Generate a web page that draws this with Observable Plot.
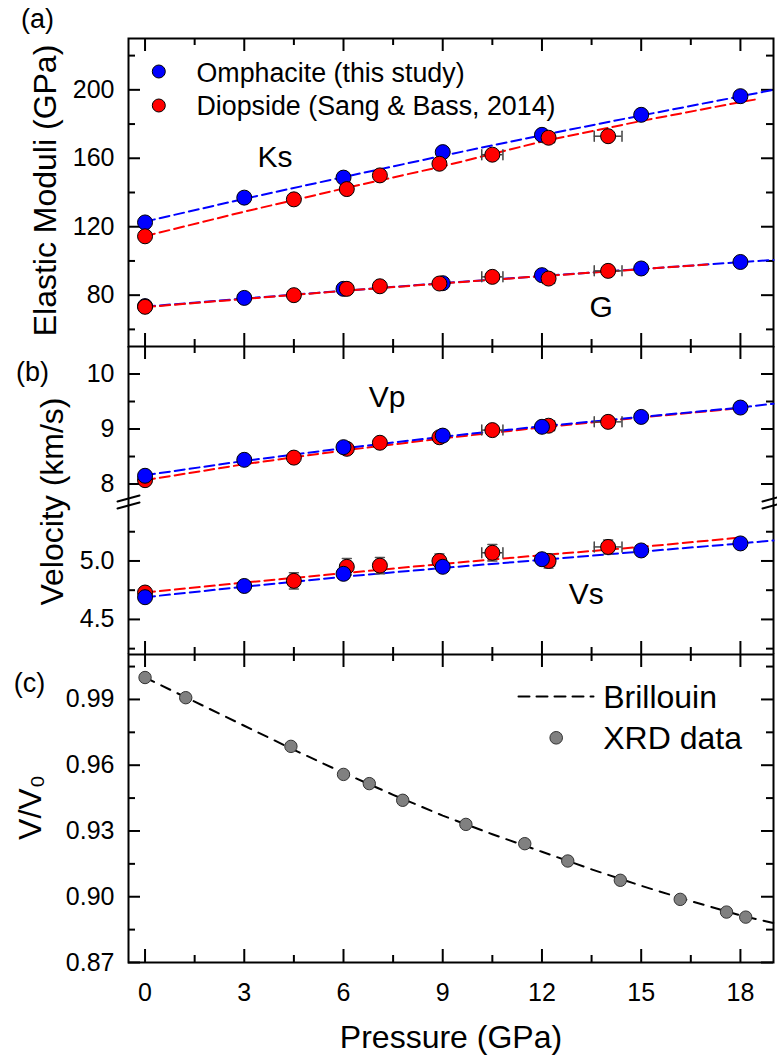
<!DOCTYPE html>
<html><head><meta charset="utf-8">
<script src="https://cdn.jsdelivr.net/npm/d3@7"></script>
<script src="https://cdn.jsdelivr.net/npm/@observablehq/plot@0.6"></script>
<style>
body{margin:0;background:#fff;}
#chart{position:relative;width:777px;height:1057px;}
</style></head><body><div id="chart"></div>
<script>
// ---------- data ----------
const seriesNames = ["Omphacite (this study)", "Diopside (Sang & Bass, 2014)"];
const seriesColors = ["#0000ff", "#ff0000"];

// Omphacite (this study)
const pOmp  = [0, 3, 6, 9, 12, 15, 18];
const ksOmp = [122.5, 137.0, 148.7, 163.6, 173.7, 185.4, 196.3];
const gOmp  = [73.6, 78.4, 83.7, 87.0, 91.7, 95.6, 99.4];
const vpOmp = [8.15, 8.44, 8.67, 8.88, 9.04, 9.22, 9.39];
const vsOmp = [4.69, 4.786, 4.89, 4.95, 5.015, 5.09, 5.15];

// Diopside (Sang & Bass, 2014)
const pDi    = [0, 4.5, 6.1, 7.1, 8.9, 10.5, 12.2, 14];
const pDiErr = [0, 0, 0, 0, 0, 0.32, 0.18, 0.42];
const ksDi   = [114.4, 136.0, 142.0, 150.0, 156.8, 162.1, 172.0, 172.9];
const gDi    = [73.2, 80.0, 83.7, 85.2, 86.8, 90.7, 89.7, 94.2];
const vpDi   = [8.07, 8.48, 8.64, 8.75, 8.85, 8.98, 9.06, 9.13];
const vsDi   = [4.73, 4.83, 4.95, 4.96, 5.0, 5.07, 5.0, 5.12];
const vsDiErr = [0.04, 0.07, 0.07, 0.07, 0.06, 0.07, 0.06, 0.06];

// dashed fit curves
const fitPOmp  = [0, 3, 6, 9, 12, 15, 18, 19];
const ksOmpFit = [123, 136.3, 149, 161.5, 173.5, 185, 196.2, 200];
const gOmpFit  = [73.3, 78, 82.6, 87, 91.2, 95.3, 99.3, 100.6];
const vpOmpFit = [8.16, 8.42, 8.65, 8.86, 9.05, 9.22, 9.39, 9.46];
const vsOmpFit = [4.69, 4.78, 4.865, 4.94, 5.01, 5.08, 5.15, 5.175];
const fitPDiK  = [0, 3, 6, 9, 12, 15, 18, 18.5];
const ksDiFit  = [114.5, 128.8, 142.3, 155.3, 169.8, 181.8, 192.8, 194.5];
const fitPDiG  = [0, 3, 6, 9, 12, 15, 17];
const gDiFit   = [73, 77.8, 82.5, 86.9, 91.1, 95.2, 97.9];
const fitPDiV  = [0, 3, 6, 9, 12, 15, 18];
const vpDiFit  = [8.07, 8.36, 8.61, 8.83, 9.03, 9.21, 9.38];
const vsDiFit  = [4.73, 4.815, 4.895, 4.975, 5.05, 5.12, 5.2];

// panel (c): XRD data and Brillouin curve
const pXrd = [0, 1.23, 4.41, 6.0, 6.78, 7.79, 9.7, 11.48, 12.78, 14.37, 16.18, 17.58, 18.16];
const vXrd = [1.0, 0.9908, 0.9686, 0.9558, 0.9516, 0.944, 0.933, 0.9242, 0.9163, 0.9075, 0.8988, 0.893, 0.8907];
const pBril = [0, 1.5, 3, 4.5, 6, 7.5, 9, 10.5, 12, 13.5, 15, 16.5, 18, 19];
const vBril = [1.0, 0.989, 0.978, 0.967, 0.9565, 0.9465, 0.937, 0.9285, 0.9205, 0.9125, 0.905, 0.898, 0.8915, 0.888];

// ticks
const xDomain = [-0.5, 19];
const xMajor = [0, 3, 6, 9, 12, 15, 18];
const xMinor = [1.5, 4.5, 7.5, 10.5, 13.5, 16.5];
const aDomain = [50, 230], aMajor = [80, 120, 160, 200], aMinor = [60, 100, 140, 180, 220];
const b1Domain = [7.664, 10.5], b1Major = [8, 9, 10], b1Minor = [8.5, 9.5];
const b2Domain = [4.2, 5.5], b2Major = [4.5, 5.0], b2Minor = [4.25, 4.75, 5.25];
const cDomain = [0.87, 1.0105], cMajor = [0.87, 0.90, 0.93, 0.96, 0.99], cMinor = [0.885, 0.915, 0.945, 0.975, 1.005];

// ---------- helpers ----------
const zipPV = (ps, vs, extra = {}) => ps.map((p, i) => {
  const o = {p, v: vs[i]};
  for (const k in extra) o[k] = extra[k][i];
  return o;
});
const FONT = '"Liberation Sans", Arial, sans-serif';
const INNER_W = 645;
const lineShape = {draw(ctx, l) { ctx.moveTo(0, 0); ctx.lineTo(0, -l); }};
const capShape = {draw(ctx, l) { ctx.moveTo(0, -l / 2); ctx.lineTo(0, l / 2); }};
const breakShape = {draw(ctx) { ctx.moveTo(-11, -1); ctx.lineTo(11, -7); ctx.moveTo(-11, 6); ctx.lineTo(11, 0); }};

function yTicks(major, minor) {
  const m = [];
  for (const [vals, len] of [[major, 12], [minor, 7]]) {
    m.push(Plot.tickY(vals, {y: d => d, insetRight: INNER_W - len, stroke: "#000", strokeWidth: 2}));
    m.push(Plot.tickY(vals, {y: d => d, insetLeft: INNER_W - len, stroke: "#000", strokeWidth: 2}));
  }
  return m;
}
function xTicks(innerH, sides) {
  const m = [];
  for (const side of sides) for (const [vals, len] of [[xMajor, 13], [xMinor, 7]]) {
    const o = {x: d => d, stroke: "#000", strokeWidth: 2};
    if (side === "top") o.insetBottom = innerH - len; else o.insetTop = innerH - len;
    m.push(Plot.tickX(vals, o));
  }
  return m;
}
function errX(rows) {
  const r = rows.filter(d => d.ex > 0);
  const st = {stroke: "#444", strokeWidth: 1.5};
  return [
    Plot.ruleY(r, {y: "v", x1: d => d.p - d.ex, x2: d => d.p + d.ex, ...st}),
    Plot.vector(r, {x: d => d.p - d.ex, y: "v", length: 10, rotate: 0, anchor: "start", shape: capShape, ...st}),
    Plot.vector(r, {x: d => d.p + d.ex, y: "v", length: 10, rotate: 0, anchor: "start", shape: capShape, ...st})
  ];
}
function errY(rows) {
  const st = {stroke: "#555", strokeWidth: 1.5};
  return [
    Plot.ruleX(rows, {x: "p", y1: d => d.v - d.ey, y2: d => d.v + d.ey, ...st}),
    Plot.vector(rows, {x: "p", y: d => d.v - d.ey, length: 9, rotate: 90, anchor: "start", shape: capShape, ...st}),
    Plot.vector(rows, {x: "p", y: d => d.v + d.ey, length: 9, rotate: 90, anchor: "start", shape: capShape, ...st})
  ];
}
const dash = (rows, color) => Plot.line(rows, {x: "p", y: "v", stroke: color, strokeWidth: 2, strokeDasharray: "10,5"});
const dots = (rows, color) => Plot.dot(rows, {x: "p", y: "v", r: 7.5, fill: color, stroke: "#000", strokeWidth: 1});
const base = (height, mt, mb, yDomain, marks) => Plot.plot({
  width: 777, height, marginLeft: 128, marginRight: 4, marginTop: mt, marginBottom: mb,
  x: {domain: xDomain, axis: null}, y: {domain: yDomain, axis: null},
  style: {fontFamily: FONT, fontSize: "25px", background: "transparent", overflow: "visible", color: "#000"},
  marks
});
const chart = document.getElementById("chart");
function place(svg, top) {
  svg.style.position = "absolute"; svg.style.left = "0px"; svg.style.top = top + "px";
  chart.appendChild(svg);
}

// ---------- panel (a) ----------
const ksDiRows = zipPV(pDi, ksDi, {ex: pDiErr});
const gDiRows = zipPV(pDi, gDi, {ex: pDiErr});
const panelA = base(346, 38, 0, aDomain, [
  Plot.frame({stroke: "#000", strokeWidth: 2}),
  ...yTicks(aMajor, aMinor),
  ...xTicks(308, ["top", "bottom"]),
  Plot.axisY(aMajor, {tickSize: 0, tickPadding: 14, fontSize: 25, label: null, tickFormat: d3.format("d")}),
  dash(zipPV(fitPOmp, ksOmpFit), seriesColors[0]),
  dash(zipPV(fitPOmp, gOmpFit), seriesColors[0]),
  dash(zipPV(fitPDiK, ksDiFit), seriesColors[1]),
  dash(zipPV(fitPDiG, gDiFit), seriesColors[1]),
  dots(zipPV(pOmp, ksOmp), seriesColors[0]),
  dots(zipPV(pOmp, gOmp), seriesColors[0]),
  ...errX(ksDiRows), ...errX(gDiRows),
  dots(ksDiRows, seriesColors[1]),
  dots(gDiRows, seriesColors[1]),
  ...seriesNames.flatMap((name, i) => [
    Plot.dot([name], {frameAnchor: "top-left", dx: 30.3, dy: 33 + 34 * i, r: 6.5, fill: seriesColors[i], stroke: "#000", strokeWidth: 1}),
    Plot.text([name], {frameAnchor: "top-left", dx: 68, dy: 35 + 33 * i, textAnchor: "start", lineAnchor: "middle", fontSize: 26.8})
  ]),
  Plot.text(["Ks"], {frameAnchor: "top-left", dx: 129, dy: 128.7, textAnchor: "start", lineAnchor: "bottom", fontSize: 30}),
  Plot.text(["G"], {frameAnchor: "top-left", dx: 461, dy: 278.7, textAnchor: "start", lineAnchor: "bottom", fontSize: 30}),
  Plot.text(["(a)"], {frameAnchor: "top-left", dx: -91, dy: -11, textAnchor: "middle", lineAnchor: "bottom", fontSize: 27}),
  Plot.text(["Elastic Moduli (GPa)"], {frameAnchor: "left", dx: -73, dy: -2, rotate: -90, textAnchor: "middle", lineAnchor: "bottom", fontSize: 32})
]);
place(panelA, 0);

// ---------- panel (b), upper part: Vp ----------
const vpDiRows = zipPV(pDi, vpDi, {ex: pDiErr});
const panelB1 = base(156, 0, 0, b1Domain, [
  Plot.ruleX(xDomain, {stroke: "#000", strokeWidth: 2}),
  ...yTicks(b1Major, b1Minor),
  ...xTicks(156, ["top"]),
  Plot.axisY(b1Major, {tickSize: 0, tickPadding: 14, fontSize: 25, label: null, tickFormat: d3.format("d")}),
  dash(zipPV(fitPDiV, vpDiFit), seriesColors[1]),
  dash(zipPV(fitPOmp, vpOmpFit), seriesColors[0]),
  ...errX(vpDiRows),
  dots(vpDiRows, seriesColors[1]),
  dots(zipPV(pOmp, vpOmp), seriesColors[0]),
  Plot.text(["Vp"], {frameAnchor: "top-left", dx: 240.3, dy: 60.7, textAnchor: "start", lineAnchor: "bottom", fontSize: 30}),
  Plot.text(["(b)"], {frameAnchor: "top-left", dx: -96, dy: 34, textAnchor: "middle", lineAnchor: "bottom", fontSize: 27}),
  Plot.text(["Velocity (km/s)"], {frameAnchor: "bottom-left", dx: -66, dy: -1, rotate: -90, textAnchor: "middle", lineAnchor: "bottom", fontSize: 32}),
  Plot.vector([0], {frameAnchor: "bottom-left", length: 1, shape: breakShape, stroke: "#000", strokeWidth: 2, anchor: "start"}),
  Plot.vector([0], {frameAnchor: "bottom-right", length: 1, shape: breakShape, stroke: "#000", strokeWidth: 2, anchor: "start"})
]);
place(panelB1, 346);

// ---------- panel (b), lower part: Vs ----------
const vsDiRows = zipPV(pDi, vsDi, {ex: pDiErr, ey: vsDiErr});
const panelB2 = base(152, 0, 0, b2Domain, [
  Plot.ruleX(xDomain, {stroke: "#000", strokeWidth: 2}),
  ...yTicks(b2Major, b2Minor),
  ...xTicks(152, ["bottom"]),
  Plot.axisY(b2Major, {tickSize: 0, tickPadding: 14, fontSize: 25, label: null, tickFormat: d3.format(".1f")}),
  dash(zipPV(fitPDiV, vsDiFit), seriesColors[1]),
  dash(zipPV(fitPOmp, vsOmpFit), seriesColors[0]),
  ...errY(vsDiRows), ...errX(vsDiRows),
  dots(vsDiRows, seriesColors[1]),
  dots(zipPV(pOmp, vsOmp), seriesColors[0]),
  Plot.text(["Vs"], {frameAnchor: "top-left", dx: 440.3, dy: 101.3, textAnchor: "start", lineAnchor: "bottom", fontSize: 30})
]);
place(panelB2, 502);

// ---------- panel (c) ----------
const panelC = base(403, 0, 95, cDomain, [
  Plot.frame({stroke: "#000", strokeWidth: 2}),
  ...yTicks(cMajor, cMinor),
  ...xTicks(308, ["top", "bottom"]),
  Plot.axisY(cMajor, {tickSize: 0, tickPadding: 14, fontSize: 25, label: null, tickFormat: d3.format(".2f")}),
  Plot.axisX(xMajor, {tickSize: 0, tickPadding: 21, fontSize: 25, label: null, tickFormat: d3.format("d")}),
  Plot.line(zipPV(pBril, vBril), {x: "p", y: "v", stroke: "#000", strokeWidth: 2, strokeDasharray: "10,8"}),
  Plot.dot(zipPV(pXrd, vXrd), {x: "p", y: "v", r: 6.2, fill: "#808080", stroke: "#333", strokeWidth: 1}),
  Plot.vector(["Brillouin"], {frameAnchor: "top-left", dx: 390, dy: 42, length: 75, rotate: 90, anchor: "start", shape: lineShape, stroke: "#000", strokeWidth: 2, strokeDasharray: "11,7"}),
  Plot.text(["Brillouin"], {frameAnchor: "top-left", dx: 474.7, dy: 53.3, textAnchor: "start", lineAnchor: "bottom", fontSize: 32}),
  Plot.dot(["XRD data"], {frameAnchor: "top-left", dx: 427.7, dy: 83.3, r: 6.3, fill: "#808080", stroke: "#333", strokeWidth: 1}),
  Plot.text(["XRD data"], {frameAnchor: "top-left", dx: 474.7, dy: 94.3, textAnchor: "start", lineAnchor: "bottom", fontSize: 32}),
  Plot.text(["(c)"], {frameAnchor: "top-left", dx: -99, dy: 37, textAnchor: "middle", lineAnchor: "bottom", fontSize: 27}),
  Plot.text(["V/V\u2080"], {frameAnchor: "left", dx: -88, dy: -1, rotate: -90, textAnchor: "middle", lineAnchor: "bottom", fontSize: 32}),
  Plot.text(["Pressure (GPa)"], {frameAnchor: "bottom", dy: 85, textAnchor: "middle", lineAnchor: "bottom", fontSize: 32})
]);
place(panelC, 654);
</script></body></html>
